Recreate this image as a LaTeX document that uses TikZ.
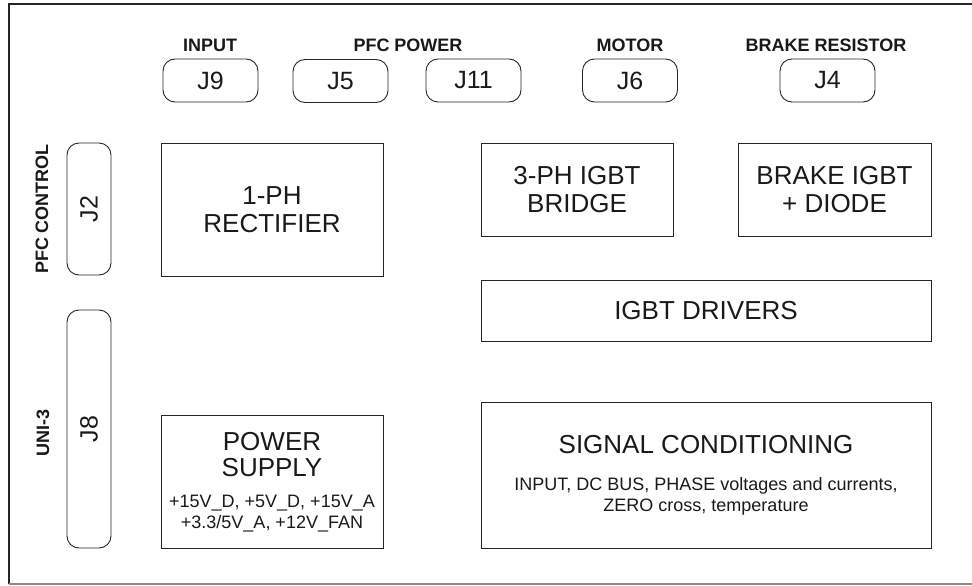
\documentclass[tikz,border=0pt]{standalone}
\usepackage{fontspec}
\setmainfont{Liberation Sans}
\begin{document}
\begin{tikzpicture}[x=1pt,y=-1pt,
  blk/.style={draw=black!85,line width=1pt,inner sep=0pt,align=center,text=black!90,
              font=\fontsize{26}{28.5}\selectfont},
  conn/.style={draw=black!85,line width=0.9pt,rounded corners=12pt,inner sep=0pt,
               minimum width=95pt,minimum height=43pt,text=black!90,
               font=\fontsize{25}{28}\selectfont},
  lbl/.style={inner sep=0pt,text=black!90,font=\fontsize{18}{20}\selectfont\bfseries},
  sub/.style={inner sep=0pt,text=black!90,anchor=base,font=\fontsize{18}{20}\selectfont},
  big/.style={inner sep=0pt,text=black!90,anchor=base,font=\fontsize{26}{28}\selectfont}]
\useasboundingbox (0,0) rectangle (972,586);
% outer frame
\coordinate (ftr) at (980,4);
\coordinate (ftl) at (9,4);
\coordinate (fbl) at (9,584);
\coordinate (fbr) at (980,584);
\draw[line width=1.8pt,black!85] (ftr) -- (ftl) -- (fbl);
\draw[line width=1.4pt,black!45] (fbl) -- (fbr);
% top connectors
\node[lbl,anchor=base] (linput) at (210,52) {INPUT};
\node[lbl,anchor=base] (lpfc) at (408,52) {PFC POWER};
\node[lbl,anchor=base] (lmotor) at (630,52) {MOTOR};
\node[lbl,anchor=base] (lbrake) at (826,52) {BRAKE RESISTOR};
\node[conn] (j9) at (210.5,80.5) {J9};
\node[conn] (j5) at (340.5,81) {J5};
\node[conn] (j11) at (473.5,80.5) {J11};
\node[conn] (j6) at (630,80.5) {J6};
\node[conn] (j4) at (827.5,80.5) {J4};
% left connectors
\node[conn,rotate=90,minimum width=132pt,minimum height=44pt] (j2) at (89,209) {J2};
\node[conn,rotate=90,minimum width=238pt,minimum height=44pt] (j8) at (89,429) {J8};
\node[lbl,rotate=90] (lpfcc) at (42,209) {PFC CONTROL};
\node[lbl,rotate=90] (luni) at (43,433) {UNI-3};
% blocks
\node[blk,minimum width=222pt,minimum height=133pt] (rect) at (272,209.5) {1-PH\\RECTIFIER};
\node[blk,minimum width=192pt,minimum height=93pt] (bridge) at (577,189.5) {3-PH IGBT\\BRIDGE};
\node[blk,minimum width=193pt,minimum height=93pt] (brk) at (834.5,189.5) {BRAKE IGBT\\+ DIODE};
\node[blk,minimum width=450pt,minimum height=61pt] (drv) at (706,310.5) {IGBT DRIVERS};
\node[blk,minimum width=450pt,minimum height=146pt] (sig) at (706,475) {};
\node[blk,minimum width=222pt,minimum height=133pt] (psu) at (272,481.5) {};
% texts inside signal conditioning
\node[big] (sigt) at (706,453) {SIGNAL CONDITIONING};
\node[sub] (sig1) at (706,490) {INPUT, DC BUS, PHASE voltages and currents,};
\node[sub] (sig2) at (706,511) {ZERO cross, temperature};
% texts inside power supply
\node[big] (ps1) at (272,450) {POWER};
\node[big] (ps2) at (272,476) {SUPPLY};
\node[sub] (ps3) at (272,507) {+15V\_D, +5V\_D, +15V\_A};
\node[sub] (ps4) at (272,528) {+3.3/5V\_A, +12V\_FAN};
\end{tikzpicture}
\end{document}
